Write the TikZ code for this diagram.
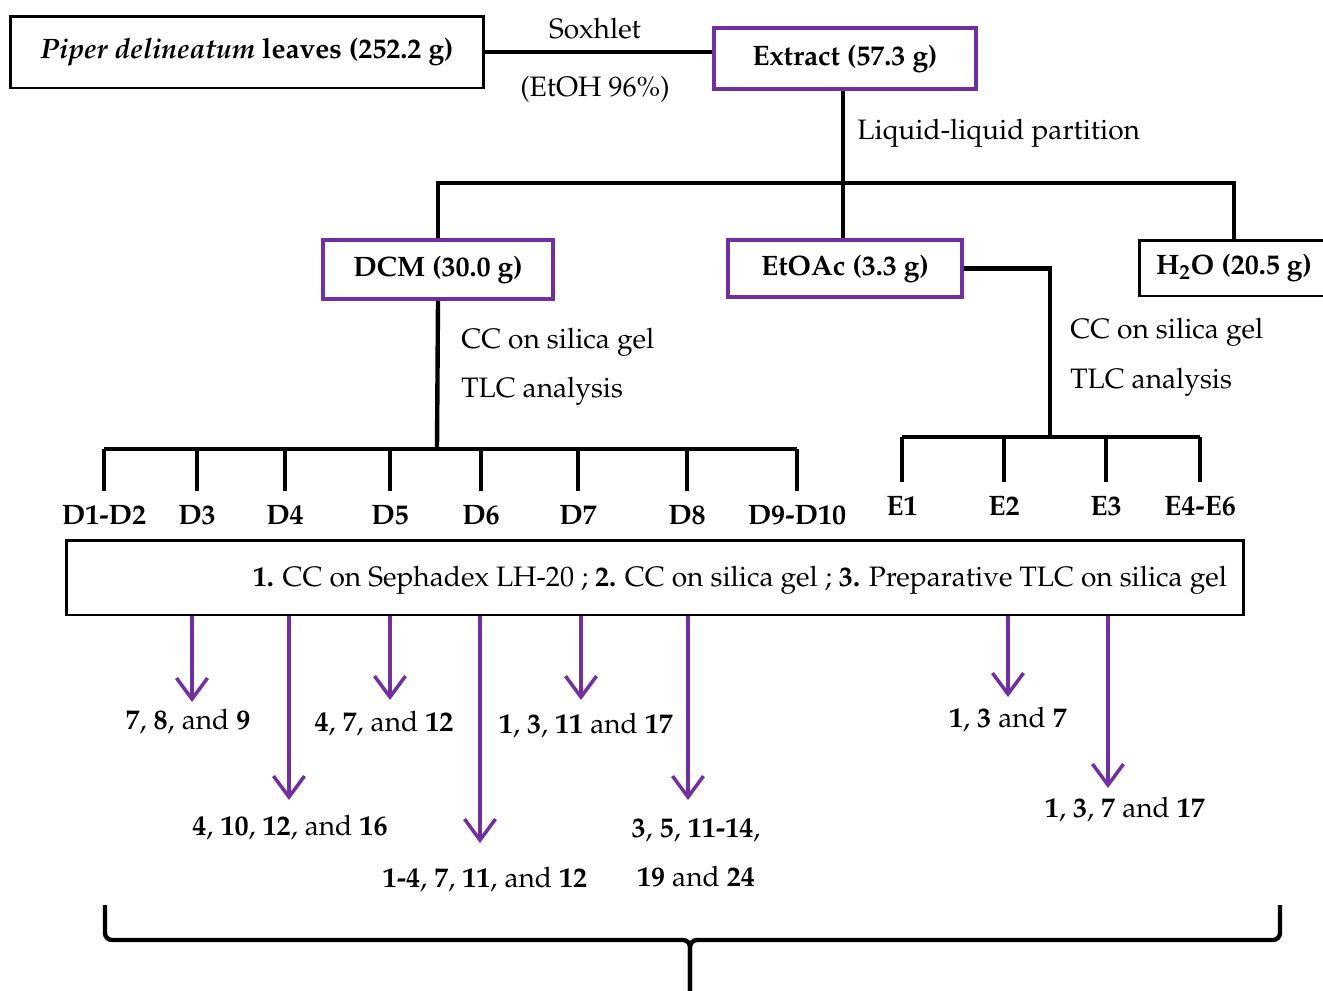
\documentclass[tikz,border=0pt]{standalone}
\usepackage[T1]{fontenc}
\usepackage{mathpazo}
\usetikzlibrary{positioning,calc,arrows.meta}
\definecolor{purp}{RGB}{112,48,160}
\newcommand{\figfont}{\fontsize{16}{19}\selectfont}
\newcommand{\cpd}[1]{\textbf{#1}}

\begin{document}
\begin{tikzpicture}
        [x=0.02cm,y=-0.02cm,>={Straight Barb[length=0.42cm,width=0.62cm]},
         box/.style={draw,line width=1.7pt,inner sep=0pt,font=\figfont\bfseries},
         pbox/.style={box,draw=purp,line width=2.2pt},
         conn/.style={line width=2.5pt},
         note/.style={font=\figfont,inner sep=0pt},
         frac/.style={font=\figfont\bfseries,inner xsep=0pt,inner ysep=8pt},
         cmp/.style={font=\figfont,align=center,inner sep=0pt},
         parr/.style={->,draw=purp,line width=2pt}]

        \useasboundingbox (0,0) rectangle (1323,991);

        \node[box,minimum width=9.48cm,minimum height=1.44cm] (leaves) at (247,52) {\textit{Piper delineatum} leaves (252.2 g)};
        \node[pbox,minimum width=5.24cm,minimum height=1.22cm] (extract) at (845,58.5) {Extract (57.3 g)};
        \draw[conn] (leaves.east) -- (leaves.east -| extract.west);
        \node[note] (soxhlet) at (595,29) {Soxhlet};
        \node[note] (etoh) at (595,89) {(EtOH 96\%)};

        \coordinate (split) at (843,183);
        \draw[conn] (extract.south -| split) -- (split);
        \node[note,anchor=west] (partition) at (857,133) {Liquid-liquid partition};

        \node[pbox,minimum width=4.6cm,minimum height=1.18cm] (dcm) at (438,269.5) {DCM (30.0 g)};
        \node[pbox,minimum width=4.68cm,minimum height=1.14cm] (etoac) at (845,268.5) {EtOAc (3.3 g)};
        \node[box,minimum width=3.8cm,minimum height=1.12cm] (water) at (1234,268) {H\textsubscript{2}O (20.5 g)};
        \draw[conn] (dcm.north) |- (split) -| (water.north);
        \draw[conn] (split) -- (split |- etoac.north);

        \coordinate (dbar) at (437,449);
        \draw[conn] (dcm.south) -- (dbar);
        \node[note,anchor=west] (cc1) at (461,342) {CC on silica gel};
        \node[note,anchor=west] (tlc1) at (461,391) {TLC analysis};
        \foreach \x/\t [count=\i] in {104/D1-D2,197/D3,285/D4,390/D5,481/D6,578/D7,687/D8,797/D9-D10}{
            \node[frac] (d\i) at (\x,515) {\t};
            \draw[conn] (d\i.north |- dbar) -- (d\i.north);
        }
        \draw[conn] (d1.north |- dbar) -- (d8.north |- dbar);

        \coordinate (ebar) at (1050,437);
        \draw[conn] (etoac.east) -| (ebar);
        \node[note,anchor=west] (cc2) at (1070,332) {CC on silica gel};
        \node[note,anchor=west] (tlc2) at (1070,382) {TLC analysis};
        \foreach \x/\t [count=\i] in {902/E1,1004/E2,1106/E3,1200/E4-E6}{
            \node[frac] (e\i) at (\x,506) {\t};
            \draw[conn] (e\i.north |- ebar) -- (e\i.north);
        }
        \draw[conn] (e1.north |- ebar) -- (e4.north |- ebar);

        \node[box,minimum width=23.56cm,minimum height=1.5cm] (steps) at (655,577.5) {};
        \node[note] (stepstext) at (740,580) {\cpd{1.} CC on Sephadex LH-20 ; \cpd{2.} CC on silica gel ; \cpd{3.} Preparative TLC on silica gel};

        \foreach \x/\y/\lx/\ly/\t [count=\i] in {
            192/702/188/722/{\cpd{7}, \cpd{8}, and \cpd{9}},
            289/800/290/828/{\cpd{4}, \cpd{10}, \cpd{12}, and \cpd{16}},
            390/700/384/724/{\cpd{4}, \cpd{7}, and \cpd{12}},
            480/843/485/880/{\cpd{1-4}, \cpd{7}, \cpd{11}, and \cpd{12}},
            581/700/586/726/{\cpd{1}, \cpd{3}, \cpd{11} and \cpd{17}},
            688/800/696/853/{\cpd{3}, \cpd{5}, \cpd{11-14},\\[9pt] \cpd{19} and \cpd{24}},
            1008/697/1008/720/{\cpd{1}, \cpd{3} and \cpd{7}},
            1108/788/1125/810/{\cpd{1}, \cpd{3}, \cpd{7} and \cpd{17}}}{
            \coordinate (tip\i) at (\x,\y);
            \draw[parr] (steps.south -| tip\i) -- (tip\i);
            \node[cmp] (out\i) at (\lx,\ly) {\t};
        }

        \coordinate (stem) at (690,1000);
        \draw[conn,rounded corners=4pt] (105,905) -- (105,940) -- (690,940) -- (stem);
        \draw[conn,rounded corners=4pt] (1280,905) -- (1280,940) -- (690,940) -- (stem);

    \end{tikzpicture}
\end{document}
